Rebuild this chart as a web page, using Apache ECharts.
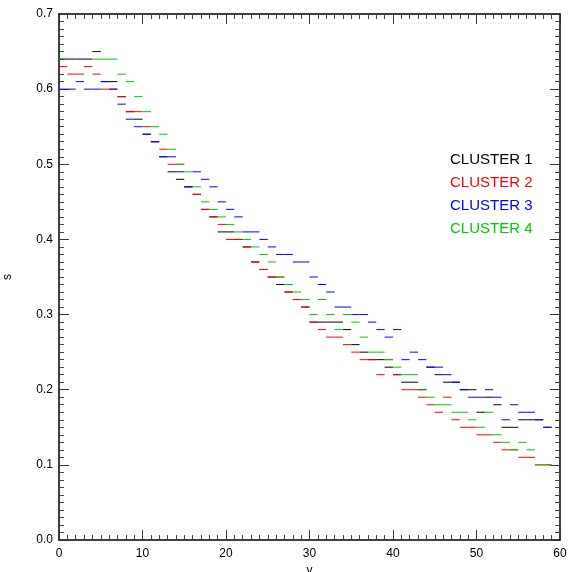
<!DOCTYPE html>
<html>
<head>
<meta charset="utf-8">
<script src="https://cdn.jsdelivr.net/npm/echarts@6/dist/echarts.min.js"></script>
<style>
html,body{margin:0;padding:0;background:#fff;}
#chart{width:571px;height:572px;}
</style>
</head>
<body>
<div id="chart"></div>
<script>
// One value per unit bin [v, v+1], v = 0..59 (null = not visible)
const cluster1 = [0.64,0.64,0.64,0.64,0.65,0.61,0.61,0.59,0.57,0.56,
                  0.54,0.53,0.51,0.49,0.48,0.47,0.46,0.44,0.43,0.41,
                  0.41,0.40,0.39,0.37,0.36,0.35,0.34,0.33,0.32,0.31,
                  0.29,0.29,0.29,0.29,0.28,0.26,0.25,0.24,0.24,0.23,
                  0.22,0.21,0.21,0.20,0.23,0.22,0.21,0.21,0.20,0.20,
                  0.17,0.19,0.18,0.15,0.15,0.16,0.16,0.16,0.15,null];
const cluster2 = [0.63,0.62,0.62,0.63,0.62,0.60,0.60,0.59,0.57,0.57,
                  0.55,0.53,0.52,0.50,0.50,0.47,0.46,0.44,0.43,0.42,
                  0.40,0.40,0.39,0.37,0.36,0.35,0.35,0.33,0.32,0.31,
                  0.29,0.28,0.27,0.27,0.26,0.25,0.24,0.24,0.22,0.24,
                  0.22,0.20,0.20,0.19,0.18,0.17,0.19,0.16,0.15,0.15,
                  0.14,0.14,0.13,0.12,0.12,0.11,0.11,0.10,0.10,null];
const cluster3 = [0.60,0.60,0.61,0.60,0.60,0.61,0.60,0.58,0.56,0.55,
                  0.54,0.53,0.51,0.51,0.49,0.47,0.49,0.48,0.47,0.45,
                  0.44,0.43,0.41,0.41,0.40,0.39,0.38,0.38,0.37,0.37,
                  0.35,0.34,0.33,0.31,0.31,0.30,0.30,0.29,0.28,0.27,
                  0.28,0.24,0.25,0.24,0.23,0.23,0.22,0.21,0.20,0.19,
                  0.19,0.20,0.19,0.16,0.18,0.17,0.17,0.16,0.15,null];
const cluster4 = [0.64,null,null,null,0.64,0.64,0.64,0.62,0.61,0.59,
                  0.57,0.55,0.54,0.52,0.50,0.49,0.47,0.45,0.44,0.43,
                  0.42,0.41,0.40,0.39,0.38,0.37,0.35,0.34,0.33,0.32,
                  0.30,0.32,0.30,0.28,0.30,0.29,0.27,0.25,0.25,0.24,
                  0.23,0.22,0.22,0.20,0.19,0.18,0.18,0.17,0.17,0.16,
                  0.15,0.17,0.14,0.13,0.12,0.13,0.12,0.10,0.10,null];

const clusterNames = ['CLUSTER 1','CLUSTER 2','CLUSTER 3','CLUSTER 4'];
const clusterColors = ['#000000','#ff0000','#0000ff','#00c800'];
const clusterValues = [cluster1, cluster2, cluster3, cluster4];

const xTicks = {min:0, max:60, interval:10};
const yTicks = {min:0, max:0.7, interval:0.1};

const FONT = 'Liberation Sans';

function toPairs(vals){
  const out = [];
  vals.forEach((v,i)=>{ if (v !== null) out.push([i, v]); });
  return out;
}

function renderSeg(color){
  return function(params, api){
    const x = api.value(0), y = api.value(1);
    const p1 = api.coord([x, y]);
    const p2 = api.coord([x + 1, y]);
    return {
      type:'line',
      shape:{x1:p1[0], y1:p1[1], x2:p2[0], y2:p2[1]},
      style:{stroke:color, lineWidth:1}
    };
  };
}

const axisCommon = {
  type:'value',
  axisLine:{show:true, onZero:false, lineStyle:{color:'#000', width:1.5}},
  axisTick:{show:true, inside:true, length:10, lineStyle:{color:'#333', width:1}},
  minorTick:{show:true, splitNumber:10, length:5, lineStyle:{color:'#444', width:1}},
  splitLine:{show:false},
  minorSplitLine:{show:false}
};

const option = {
  animation:false,
  backgroundColor:'#fff',
  grid:{left:59, right:11, top:14, bottom:32, containLabel:false, outerBoundsMode:'none'},
  legend:{
    orient:'vertical', left:440, top:147, itemGap:8,
    icon:'none', itemWidth:0, itemHeight:15,
    selectedMode:false,
    textStyle:{fontFamily:FONT, fontSize:15},
    data: clusterNames.map((n,i)=>({name:n, textStyle:{color:clusterColors[i]}}))
  },
  xAxis:[
    Object.assign({}, axisCommon, {
      position:'bottom', min:xTicks.min, max:xTicks.max, interval:xTicks.interval,
      axisLabel:{show:true, color:'#000', fontFamily:FONT, fontSize:12, margin:8},
      name:'v', nameLocation:'middle', nameGap:15,
      nameTextStyle:{color:'#000', fontFamily:FONT, fontSize:12}
    }),
    Object.assign({}, axisCommon, {
      position:'top', min:xTicks.min, max:xTicks.max, interval:xTicks.interval,
      axisLabel:{show:false}
    })
  ],
  yAxis:[
    Object.assign({}, axisCommon, {
      position:'left', min:yTicks.min, max:yTicks.max, interval:yTicks.interval,
      axisLabel:{show:true, color:'#000', fontFamily:FONT, fontSize:12, margin:6,
                 formatter:(v)=>v.toFixed(1)},
      name:'s', nameLocation:'middle', nameGap:45, nameRotate:90,
      nameTextStyle:{color:'#000', fontFamily:FONT, fontSize:12}
    }),
    Object.assign({}, axisCommon, {
      position:'right', min:yTicks.min, max:yTicks.max, interval:yTicks.interval,
      axisLabel:{show:false}
    })
  ],
  series: clusterValues.map((vals,i)=>({
    type:'custom',
    name:clusterNames[i],
    xAxisIndex:0, yAxisIndex:0,
    itemStyle:{color:clusterColors[i]},
    encode:{x:0, y:1},
    data:toPairs(vals),
    renderItem:renderSeg(clusterColors[i]),
    z:2+i
  }))
};

const chart = echarts.init(document.getElementById('chart'), null, {renderer:'canvas'});
chart.setOption(option);
</script>
</body>
</html>
